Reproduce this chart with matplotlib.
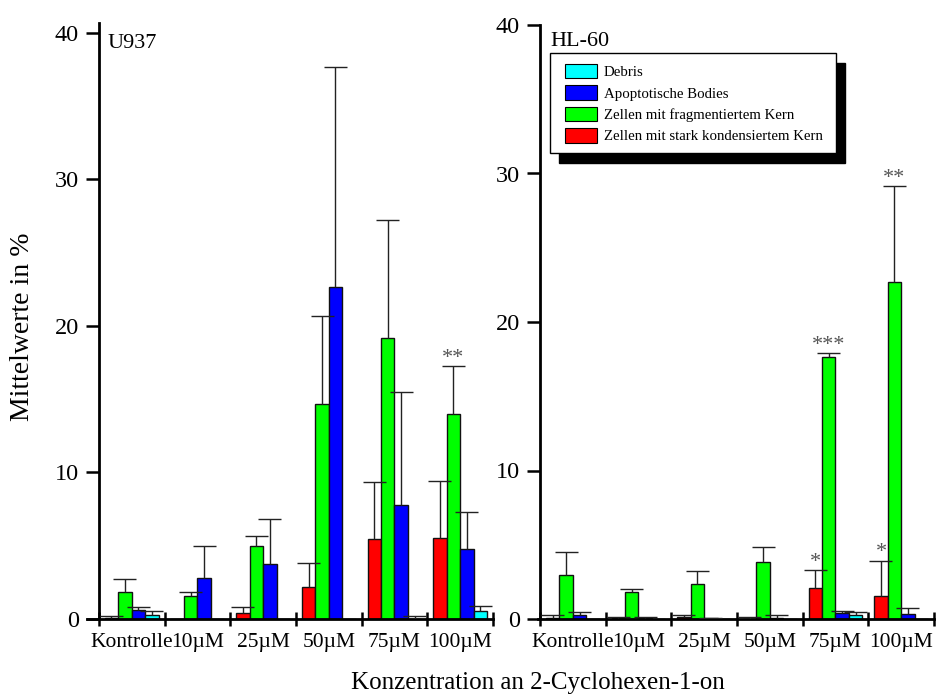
import matplotlib
matplotlib.use("Agg")
import matplotlib.pyplot as plt
from matplotlib.patches import Patch, Rectangle
import numpy as np

plt.rcParams['font.family'] = ['Liberation Serif', 'DejaVu Serif']

categories = ['Kontrolle', '10µM', '25µM', '50µM', '75µM', '100µM']
series_names = ['Zellen mit stark kondensiertem Kern', 'Zellen mit fragmentiertem Kern',
                'Apoptotische Bodies', 'Debris']
series_colors = ['#ff0000', '#00ff00', '#0000ff', '#00ffff']
legend_order = [3, 2, 1, 0]

# U937 means and (upper) standard errors
u937_red = [0.05, 0.0, 0.39, 2.2, 5.48, 5.55]
u937_green = [1.82, 1.6, 4.98, 14.65, 19.16, 13.97]
u937_blue = [0.62, 2.78, 3.73, 22.68, 7.8, 4.76]
u937_cyan = [0.27, 0.0, 0.0, 0.0, 0.03, 0.55]
u937_red_err = [0.15, 0.0, 0.45, 1.6, 3.85, 3.87]
u937_green_err = [0.88, 0.22, 0.69, 6.05, 8.04, 3.3]
u937_blue_err = [0.22, 2.22, 3.1, 15.0, 7.7, 2.52]
u937_cyan_err = [0.28, 0.0, 0.0, 0.0, 0.17, 0.34]
u937_marks = [(5, 1, '**')]

# HL-60 means and (upper) standard errors
hl60_red = [0.05, 0.05, 0.11, 0.03, 2.07, 1.57]
hl60_green = [2.97, 1.82, 2.34, 3.82, 17.64, 22.68]
hl60_blue = [0.25, 0.05, 0.05, 0.1, 0.43, 0.32]
hl60_cyan = [0.0, 0.0, 0.0, 0.0, 0.25, 0.0]
hl60_red_err = [0.24, 0.08, 0.18, 0.1, 1.21, 2.34]
hl60_green_err = [1.53, 0.23, 0.88, 1.01, 0.25, 6.47]
hl60_blue_err = [0.22, 0.08, 0.05, 0.19, 0.13, 0.42]
hl60_cyan_err = [0.0, 0.0, 0.0, 0.0, 0.22, 0.0]
hl60_marks = [(4, 0, '*'), (4, 1, '***'), (5, 0, '*'), (5, 1, '**')]

yticks = [0, 10, 20, 30, 40]

W, H = 939, 698
fig = plt.figure(figsize=(W / 100, H / 100), dpi=100)
axL = fig.add_axes([87 / W, (H - 619) / H, 406 / W, (619 - 23) / H])
axR = fig.add_axes([538 / W, (H - 619) / H, 396 / W, (619 - 25) / H])

bw = 0.205
cap_half = 0.175


def panel(ax, means, errs, marks, xlim, ylim):
    n = len(categories)
    xg = np.arange(n)
    for i, (m, e) in enumerate(zip(means, errs)):
        xc = xg + 0.5 + (i - 1.5) * bw
        ax.bar(xc, m, width=bw, color=series_colors[i], edgecolor='#111111',
               linewidth=1.0, zorder=2)
        m = np.asarray(m)
        e = np.asarray(e)
        sel = e > 0
        ax.vlines(xc[sel], m[sel], m[sel] + e[sel], color='#222222', lw=1.0, zorder=3)
        ax.hlines(m[sel] + e[sel], xc[sel] - cap_half, xc[sel] + cap_half,
                  color='#222222', lw=1.0, zorder=3)
    for g, s, lab in marks:
        xc = g + 0.5 + (s - 1.5) * bw
        top = means[s][g] + errs[s][g]
        ax.annotate(lab, (xc, top), xytext=(0, 2.5), textcoords='offset points',
                    ha='center', va='baseline', fontsize=16, color='#555555', zorder=4)
    ax.set_xlim(*xlim)
    ax.set_ylim(*ylim)
    for sp in ['top', 'right']:
        ax.spines[sp].set_visible(False)
    ax.spines['left'].set_position(('data', 0))
    ax.spines['left'].set_linewidth(2)
    ax.spines['bottom'].set_linewidth(2)
    ax.set_yticks(yticks)
    ax.tick_params(axis='y', direction='out', length=9.5, width=1.8, pad=5, labelsize=17.5)
    ax.set_xticks(np.arange(n + 1))
    ax.set_xticklabels([])
    ax.set_xticks(xg + 0.5, minor=True)
    ax.set_xticklabels(categories, minor=True)
    ax.tick_params(axis='x', which='major', direction='inout', length=10, width=1.8)
    ax.tick_params(axis='x', which='minor', length=0, pad=10, labelsize=15.5)
    ax.patch.set_visible(False)


panel(axL, [u937_red, u937_green, u937_blue, u937_cyan],
      [u937_red_err, u937_green_err, u937_blue_err, u937_cyan_err],
      u937_marks, (-0.18, 6.0), (0, 40.68))
panel(axR, [hl60_red, hl60_green, hl60_blue, hl60_cyan],
      [hl60_red_err, hl60_green_err, hl60_blue_err, hl60_cyan_err],
      hl60_marks, (-0.03, 6.0), (0, 40))

fig.text(108 / W, 1 - 43 / H, 'U937', fontsize=16, ha='left', va='center')
fig.text(550 / W, 1 - 42 / H, 'HL-60', fontsize=16, ha='left', va='center')

fig.text(23 / W, 1 - 327 / H, 'Mittelwerte in %', rotation=90, fontsize=20,
         ha='center', va='center')
fig.text(538 / W, 1 - 683 / H, 'Konzentration an 2-Cyclohexen-1-on', fontsize=18,
         ha='center', va='center')

# legend box with hard shadow
fig.add_artist(Rectangle((559 / W, 1 - 163 / H), (836 - 550) / W, (153 - 53) / H,
                         transform=fig.transFigure, facecolor='black',
                         edgecolor='black', zorder=1))
fig.add_artist(Rectangle((550 / W, 1 - 153 / H), (836 - 550) / W, (153 - 53) / H,
                         transform=fig.transFigure, facecolor='white',
                         edgecolor='black', lw=1.0, zorder=2))
handles = [Patch(facecolor=series_colors[i], edgecolor='black', lw=0.8) for i in legend_order]
labels = [series_names[i] for i in legend_order]
leg = fig.legend(handles, labels, loc='upper left', bbox_to_anchor=(565 / W, 1 - 64 / H),
                 frameon=False, borderpad=0, borderaxespad=0, fontsize=10.7,
                 handlelength=2.15, handleheight=1.1, handletextpad=0.45,
                 labelspacing=0.42)
leg.set_zorder(5)

fig.savefig('out.png', dpi=100)
